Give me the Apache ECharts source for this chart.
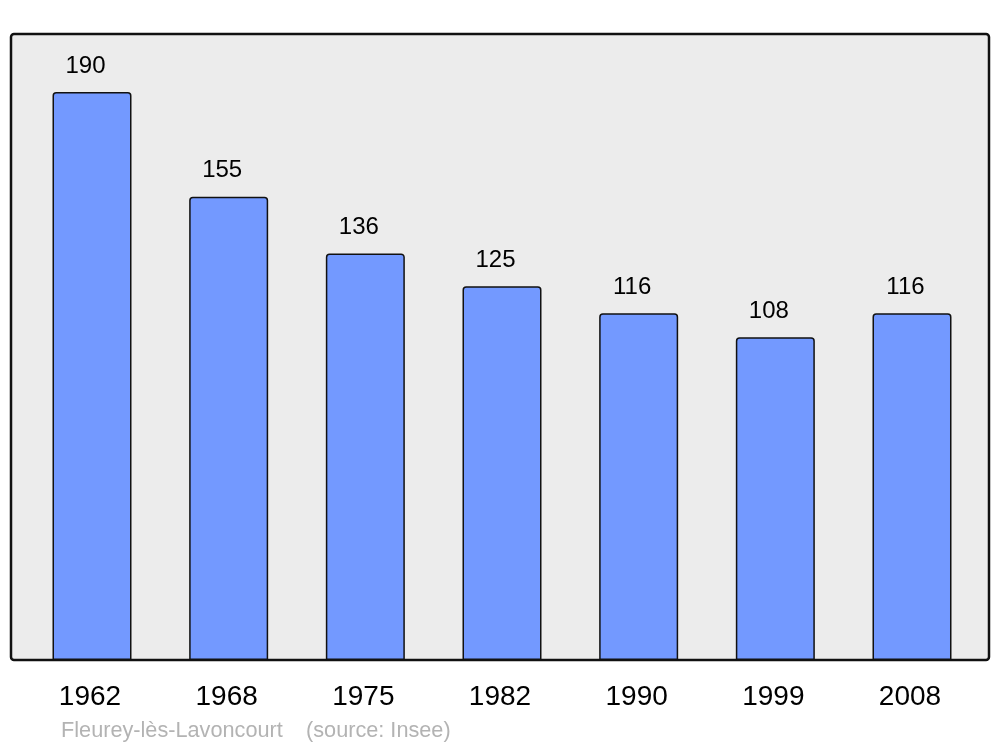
<!DOCTYPE html>
<html>
<head>
<meta charset="utf-8">
<script src="https://cdn.jsdelivr.net/npm/echarts@6/dist/echarts.min.js"></script>
<style>
html,body{margin:0;padding:0;background:#fff;}
#chart{width:1000px;height:747px;}
</style>
</head>
<body>
<div id="chart"></div>
<script>
const years = ['1962', '1968', '1975', '1982', '1990', '1999', '2008'];
const population = [190, 155, 136, 125, 116, 108, 116];
const placeName = 'Fleurey-lès-Lavoncourt';
const sourceText = '(source: Insee)';

const chart = echarts.init(document.getElementById('chart'), null, {renderer: 'canvas'});
const font = 'Liberation Sans, Arial, sans-serif';
chart.setOption({
  animation: false,
  backgroundColor: '#ffffff',
  grid: {left: 23.67, right: 19.67, top: 34, bottom: 87, containLabel: false},
  graphic: [
    {type: 'rect', z: 0, shape: {x: 11, y: 34, width: 978, height: 626, r: 3},
     style: {fill: '#ececec', stroke: '#111', lineWidth: 2.5}},
    {type: 'text', z: 5, x: 61, y: 731,
     style: {text: placeName, fill: '#b3b3b3', font: '21.7px ' + font, textVerticalAlign: 'middle', verticalAlign: 'middle'}},
    {type: 'text', z: 5, x: 306, y: 731,
     style: {text: sourceText, fill: '#b3b3b3', font: '21.7px ' + font, textVerticalAlign: 'middle', verticalAlign: 'middle'}}
  ],
  xAxis: {
    type: 'category',
    data: years,
    boundaryGap: true,
    axisLine: {show: false},
    axisTick: {show: false},
    axisLabel: {color: '#000', fontSize: 28, fontFamily: font, margin: 23, padding: [0, 4, 0, 0]}
  },
  yAxis: {
    type: 'value',
    min: 0,
    max: 209.4,
    show: false,
    splitLine: {show: false}
  },
  series: [{
    type: 'bar',
    data: population,
    barWidth: 79,
    z: 2,
    itemStyle: {color: '#7399ff', borderColor: '#111', borderWidth: 1.5, borderRadius: [3, 3, 0, 0]},
    label: {show: true, position: 'top', distance: 14, offset: [-6.5, 0], color: '#000', fontSize: 24, fontFamily: font}
  }]
});
</script>
</body>
</html>
